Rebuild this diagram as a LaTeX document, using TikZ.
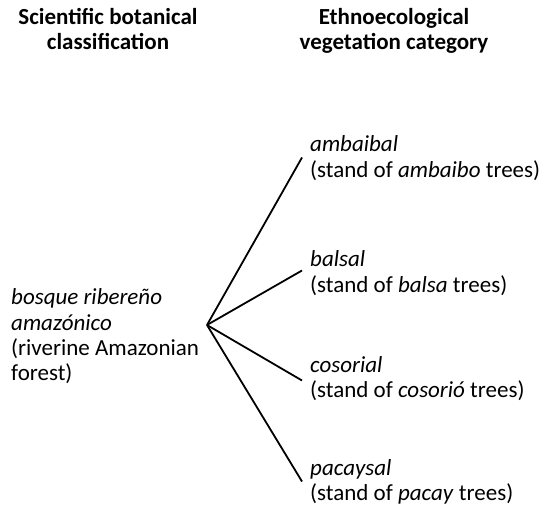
\documentclass[tikz,border=0pt]{standalone}
\usepackage{fontspec}
\setmainfont{Carlito}
\usetikzlibrary{positioning}

\begin{document}
\begin{tikzpicture}[x=1pt,y=-1pt,
    font=\fontsize{23}{25.5}\selectfont,
    head/.style={font=\fontsize{23}{25.5}\selectfont\bfseries,align=center,inner sep=0pt,anchor=base},
    label/.style={align=left,inner sep=0pt,anchor=base west},
    branch/.style={line width=1.8pt}]
    \useasboundingbox (0,0) rectangle (544,513);

    % headings (base anchor = last line)
    \node[head] (sci) at (108,50) {Scientific botanical\\classification};
    \node[head] (eth) at (394,50) {Ethnoecological\\vegetation category};

    \node[label] (riv) at (11,381) {\textit{bosque ribereño}\\\textit{amazónico}\\(riverine Amazonian\\forest)};
    \coordinate (fork) at (207,325);

    \node[label] (amb) at (310,177.5) {\textit{ambaibal}\\(stand of \textit{ambaibo} trees)};
    \node[label] (bal) at (310,292.5) {\textit{balsal}\\(stand of \textit{balsa} trees)};
    \node[label] (cos) at (310,397.5) {\textit{cosorial}\\(stand of \textit{cosorió} trees)};
    \node[label] (pac) at (310,500.5) {\textit{pacaysal}\\(stand of \textit{pacay} trees)};

    \draw[branch] (fork) -- ([xshift=-8pt,yshift=20pt]amb.base west);
    \draw[branch] (fork) -- ([xshift=-8pt,yshift=22pt]bal.base west);
    \draw[branch] (fork) -- ([xshift=-8pt,yshift=17pt]cos.base west);
    \draw[branch] (fork) -- ([xshift=-8pt,yshift=19pt]pac.base west);
\end{tikzpicture}
\end{document}
